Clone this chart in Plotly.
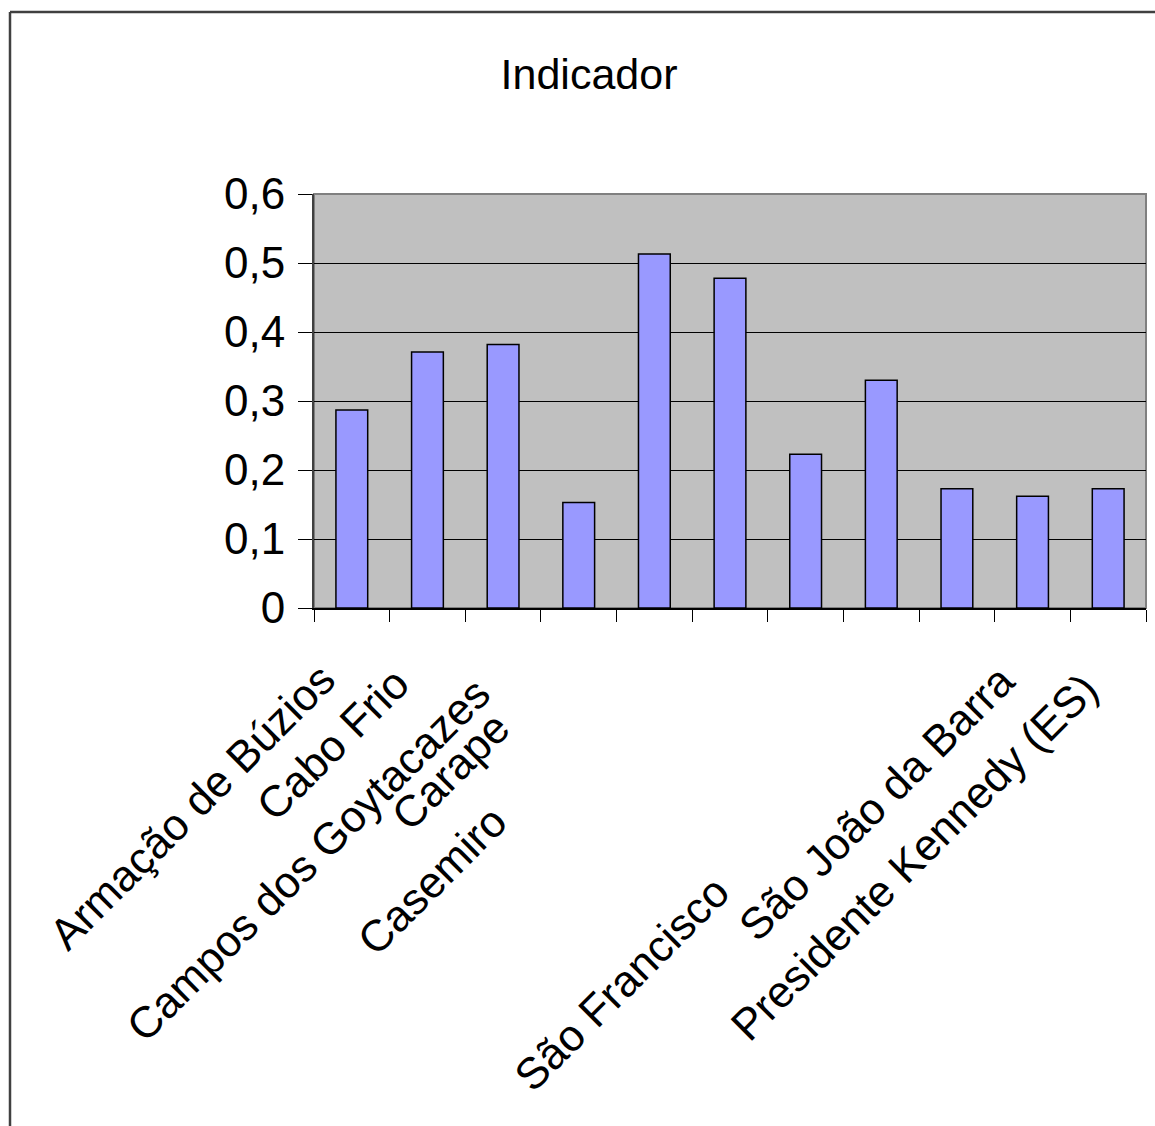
import plotly.graph_objects as go

categories = [
    "Armação de Búzios", "Cabo Frio", "Campos dos Goytacazes", "Carapebus",
    "Casemiro de Abreu", "Macaé", "Quissamã", "Rio das Ostras",
    "São Francisco de Itabapoana", "São João da Barra", "Presidente Kennedy (ES)",
]
values = [0.287, 0.371, 0.382, 0.153, 0.513, 0.478, 0.223, 0.330, 0.173, 0.162, 0.173]

# visible (as rendered) category label texts
label_texts = [
    "Armação de Búzios", "Cabo Frio", "Campos dos Goytacazes", "Carape",
    "Casemiro", "", "", "", "São Francisco", "São João da Barra", "Presidente Kennedy (ES)",
]
# pixel offsets of label top-right corners from category centre / axis
label_dx = [-5, -7, -1, -58, -136, 0, 0, 0, -216, -6, 2]
label_dy = [-43, -48, -57, -92, -186, 0, 0, 0, -256, -45, -53]

y_ticks = [0, 0.1, 0.2, 0.3, 0.4, 0.5, 0.6]
y_tick_text = ["0", "0,1", "0,2", "0,3", "0,4", "0,5", "0,6"]

FONT = "Liberation Sans, Arial, sans-serif"

fig = go.Figure()
fig.add_trace(go.Bar(
    x=categories, y=values,
    marker=dict(color="#9999FF", line=dict(color="black", width=1.5)),
    width=0.42,
))

annotations = []
for cat, txt, dx, dy in zip(categories, label_texts, label_dx, label_dy):
    if not txt:
        continue
    annotations.append(dict(
        x=cat, y=0, xref="x", yref="y", text=txt, showarrow=False,
        textangle=-45, xanchor="right", yanchor="top",
        xshift=dx, yshift=dy,
        font=dict(family=FONT, size=44, color="black"),
    ))

fig.update_layout(
    width=1155, height=1126,
    margin=dict(l=314, r=9, t=194, b=518),
    paper_bgcolor="white", plot_bgcolor="#C0C0C0",
    showlegend=False,
    title=dict(text="Indicador", x=0.51, xref="container", xanchor="center",
               y=1 - 74 / 1126, yref="container", yanchor="middle",
               font=dict(family=FONT, size=43, color="black")),
    annotations=annotations,
    xaxis=dict(
        type="category", showticklabels=False, tickson="boundaries",
        range=[-0.5, len(categories) - 0.5], autorange=False,
        ticks="outside", ticklen=12, tickcolor="black", tickwidth=1,
        showline=True, linecolor="black", linewidth=1.5, showgrid=False,
        mirror=False,
    ),
    yaxis=dict(
        range=[0, 0.6], autorange=False, tickvals=y_ticks, ticktext=y_tick_text,
        ticks="outside", ticklen=14, tickcolor="black", tickwidth=1,
        showline=True, linecolor="#404040", linewidth=2,
        showgrid=True, gridcolor="black", gridwidth=1,
        zeroline=False, ticklabelstandoff=4,
        tickfont=dict(family=FONT, size=44, color="black"),
    ),
    shapes=[
        dict(type="rect", xref="paper", yref="paper", x0=0, x1=1, y0=0, y1=1,
             line=dict(color="#808080", width=2), layer="below"),
        dict(type="line", xref="paper", yref="paper",
             x0=(10 - 314) / 832, x1=(10 - 314) / 832,
             y0=(608 - 12) / 414, y1=(608 - 1130) / 414,
             line=dict(color="#404040", width=2.5)),
        dict(type="line", xref="paper", yref="paper",
             x0=(10 - 314) / 832, x1=(1160 - 314) / 832,
             y0=(608 - 12) / 414, y1=(608 - 12) / 414,
             line=dict(color="#404040", width=2.5)),
    ],
)

fig.write_html("out.html", config={"displayModeBar": False},
               post_script="document.body.style.margin='0';")
